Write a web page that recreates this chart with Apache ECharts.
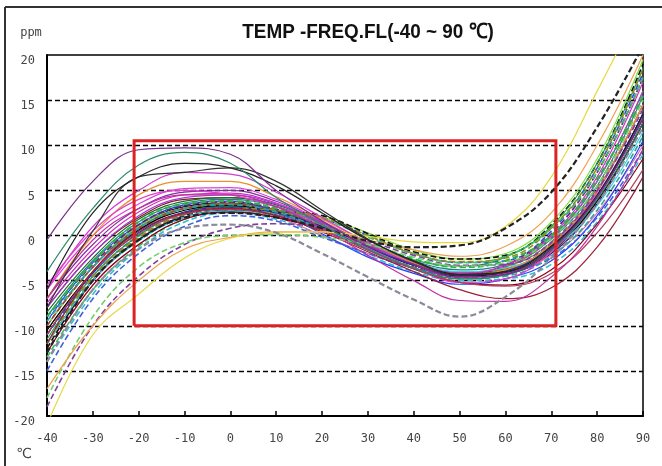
<!DOCTYPE html>
<html>
<head>
<meta charset="utf-8">
<script src="https://cdn.jsdelivr.net/npm/echarts@6/dist/echarts.min.js"></script>
<style>
html,body{margin:0;padding:0;background:#fff;}
#chart{width:662px;height:466px;}
</style>
</head>
<body>
<div id="chart"></div>
<script>
// Temperatures (°C) at which each curve was read
const temps = [-40, -30, -20, -10, 0, 10, 20, 30, 40, 50, 60, 70, 80, 90];
// Frequency deviation curves (ppm)
const ppmCurves = [
  [-10, -3.5, 1, 3.2, 3.6, 2.8, 1.0, -1.2, -3.2, -4.3, -3.8, -1.0, 5.0, 14.5],
  [-11, -4.5, 0, 2.5, 3.0, 2.6, 1.8, 0.0, -2.0, -3.0, -2.8, 0.5, 7.5, 18],
  [-12, -5, -0.5, 2.0, 2.8, 2.3, 0.8, -1.3, -3.3, -4.4, -4.2, -2.0, 3.5, 12.5],
  [-8, -2, 2, 4.0, 4.2, 3.2, 1.2, -1.2, -3.3, -4.6, -4.3, -1.8, 3.8, 12.5],
  [-14, -6.5, -1.5, 1.5, 2.5, 1.8, 0.0, -2.2, -4.0, -5.0, -4.8, -3.2, 1.5, 9],
  [-11, -4, 0.5, 3.0, 3.5, 2.8, 1.0, -1.3, -3.3, -4.2, -3.5, -0.3, 6, 16],
  [-7, -1, 3, 4.8, 5.0, 3.8, 1.5, -1.0, -3.1, -4.5, -4.2, -1.5, 4.3, 13.5],
  [-10, -3.5, 1, 3.0, 3.3, 2.8, 2.0, 0.3, -1.6, -2.6, -2.0, 1.5, 8.5, 19.5],
  [-9, -2.8, 1.5, 3.6, 4.0, 3.2, 1.3, -0.9, -2.8, -3.8, -3.2, -0.4, 5.5, 15.5],
  [-12.5, -5, -0.5, 2.2, 3.0, 2.7, 2.2, 0.2, -1.8, -2.6, -2.2, 1.2, 8, 19],
  [-13, -5.5, -1, 1.8, 2.6, 2.0, 0.0, -2.0, -3.6, -4.4, -4.0, -2.2, 2.5, 10],
  [-10.5, -4, 0.8, 3.0, 3.5, 2.8, 1.0, -1.2, -3.0, -4.1, -3.7, -1.2, 4.3, 13],
  [-9.5, -3, 1.2, 3.4, 3.8, 2.6, 0.2, -2.4, -4.2, -5.4, -4.8, -2.8, 2.2, 10.5],
  [-6, 0, 3.5, 5.2, 5.3, 4.0, 1.6, -1.0, -3.2, -4.5, -4.0, -1.2, 4.8, 14.5],
  [-11.5, -4.5, 0, 2.6, 3.2, 2.6, 1.0, -0.9, -2.7, -3.4, -2.4, 1.0, 8, 18.5],
  [-12, -4.8, -0.3, 2.3, 3.0, 2.4, 0.8, -1.3, -3.1, -4.1, -3.5, -0.7, 5.3, 15.5],
  [-8.5, -2.5, 1.8, 3.8, 4.2, 3.4, 1.4, -1.0, -3.1, -4.3, -3.9, -1.3, 4.3, 13.5],
  [-10, -3.5, 0.8, 3.0, 3.4, 2.6, 0.8, -1.5, -3.5, -4.7, -4.3, -1.7, 3.8, 12.5],
  [-15, -7, -2, 1.0, 2.2, 1.6, -0.2, -2.0, -3.6, -4.5, -4.0, -2.5, 2.0, 9.5],
  [-8, -2, 2.2, 4.2, 4.5, 3.5, 1.4, -0.9, -2.9, -4.1, -3.3, -0.2, 6, 16],
  [-9, -3.2, 1.2, 3.3, 3.7, 2.9, 1.0, -1.3, -3.2, -4.3, -3.3, 0.2, 7, 17.5],
  [-13.5, -6, -1.2, 1.8, 2.7, 2.5, 1.8, -0.2, -2.0, -3.0, -2.3, 0.8, 7, 17.5],
  [-10.5, -4, 0.6, 2.8, 3.3, 2.6, 0.9, -1.3, -3.3, -4.5, -4.2, -1.7, 3.8, 12.5],
  [-12, -5, -0.6, 2.0, 2.7, 2.2, 0.7, -1.3, -3.0, -4.0, -3.6, -1.5, 3.3, 11.5],
  [-7.5, -1.5, 2.6, 4.5, 4.7, 3.6, 1.5, -1.0, -3.0, -4.2, -3.3, 0.0, 6.5, 17],
  [-13, -5.5, -1, 1.8, 2.6, 2.0, 0.6, -1.6, -3.7, -5.2, -5.5, -3.8, 1.3, 8.5],
  [-11, -4.2, 0.3, 2.6, 3.1, 2.5, 0.9, -1.3, -3.3, -4.4, -3.9, -1.2, 4.3, 13.5],
  [-12, -4.5, -0.2, 2.4, 3.0, 2.8, 2.0, 0.0, -2.0, -2.9, -2.5, 0.8, 7.5, 18.5],
  [-9.5, -3.5, 0.8, 3.0, 3.4, 2.6, 0.7, -1.6, -3.6, -4.8, -4.5, -2.3, 2.8, 11],
  [-9, -3, 1.5, 3.5, 3.8, 3.0, 1.2, -0.8, -2.6, -3.5, -2.8, 0.0, 6.2, 15.5],
  [-7, 0, 4.5, 6.0, 6.0, 4.3, 1.8, -0.8, -3.0, -4.3, -3.8, -1.0, 5.0, 14.5],
  [-6, 1, 5, 7.0, 6.8, 4.8, 2.0, -0.8, -3.2, -4.6, -4.2, -1.6, 4.2, 13],
  [-5.5, 0.5, 4, 5, 4.5, 3.2, 1.2, -1.4, -3.6, -5.2, -4.8, -1.8, 4.2, 13],
  [-11, -4, 0.2, 2.4, 2.9, 2.2, 0.6, -1.6, -3.7, -5.2, -5.6, -4.2, 0.3, 7.3],
  [-12, -4, 0.5, 2.5, 3.0, 2.2, 0.4, -1.8, -4.0, -6.0, -7.0, -5.8, -1.3, 6.5],
  [-7, -0.5, 3, 4.5, 4.5, 3.2, 0.8, -2.2, -5.0, -7.2, -7.3, -4.6, 1.0, 9.5],
  [-19, -10, -4.5, -1, 0.8, 1.3, 0.8, -0.6, -2.2, -3.3, -3.2, -0.8, 5, 14],
  [-18, -9, -3.5, -0.8, 0, 0.1, -0.2, -1.0, -2.4, -3.4, -3.0, -0.3, 5.5, 15],
  [-17, -10, -5.0, -1.5, -0.2, 0.4, 0.4, -0.5, -1.6, -2.3, -1.2, 2.5, 10, 20],
  [-21, -11, -6.5, -2.5, -0.3, 0.3, 0.4, -0.1, -0.7, -0.8, 1.0, 6.5, 16, 26],
  [-13, -5, -0.5, 2, 2.5, 2.0, 0.8, -0.6, -1.3, -1.1, 0.8, 4.8, 12, 21],
  [-14, -6, -1.5, 0.8, 1.2, 0.3, -2.0, -4.6, -7.1, -9.0, -6.8, -2.5, 3.5, 12],
  [-8, 0.5, 6.5, 7.0, 7.5, 6.0, 2.8, -0.4, -2.9, -4.4, -4.1, -1.4, 4.3, 13],
  [-6, 2.5, 6.5, 8.0, 7.5, 5.5, 2.5, -0.5, -2.8, -4.3, -4.0, -1.2, 4.5, 13.5],
  [-4, 3, 7.8, 9.2, 8.0, 4.2, 1.2, -1.5, -3.6, -4.8, -4.4, -1.6, 4, 12.5],
  [-0.5, 6, 9.5, 9.7, 9.0, 5.0, 1.6, -1.2, -3.2, -4.6, -4.3, -1.5, 4.3, 13]
];
// Specification window (red box), in axis units
const boxX = [-21, -21, 71, 71, -21];
const boxY = [-10, 10.5, 10.5, -10, -10];
const yTicks = [-20, -15, -10, -5, 0, 5, 10, 15, 20];
const titleText = 'TEMP -FREQ.FL(-40 ~ 90 \u2103)';

// Styles (kept apart from data)
const curveColors = [
  '#111111','#3050e0','#202080','#8b1a1a','#30c0d0','#808020','#8030a0','#80e040','#208080','#111111',
  '#e070a0','#8b5a2b','#2040ff','#e040e0','#20a040','#777777','#1e6b30','#a04040','#4060e0','#a040e0',
  '#602080','#40c060','#000000','#40d0e0','#d030c0','#8b0020','#1030c0','#909020','#30a0a0','#30b050',
  '#e8902a','#d23cd2','#e040c8','#b04060','#9b1f3a','#c030a0','#8040a0','#70d070','#f0a050','#e8d840',
  '#222222','#8a8a9a','#333333','#222222','#2a8a6a','#7b2d8e'
];
const dashedSet = [1,4,9,15,17,18,20,21,27,28,29,36,37,40,41];
const thickSet = [29,40,41];

const series = ppmCurves.map((vals, k) => ({
  type: 'line',
  data: temps.map((t, i) => [t, vals[i]]),
  smooth: 0.4,
  symbol: 'none',
  silent: true,
  z: 2,
  lineStyle: {
    color: curveColors[k],
    width: thickSet.includes(k) ? 2.2 : (dashedSet.includes(k) ? 1.6 : 1.2),
    type: dashedSet.includes(k) ? [6, 3] : 'solid'
  }
}));
series.push({
  type: 'line',
  data: boxX.map((x, i) => [x, boxY[i]]),
  symbol: 'none',
  silent: true,
  z: 5,
  clip: false,
  lineStyle: { color: '#dd2222', width: 3, join: 'miter' }
});

const chart = echarts.init(document.getElementById('chart'), null, { renderer: 'canvas' });
chart.setOption({
  animation: false,
  backgroundColor: '#ffffff',
  grid: { left: 47, right: 19, top: 55, bottom: 50, show: true, borderColor: '#000', borderWidth: 1.5, backgroundColor: 'transparent' },
  xAxis: {
    type: 'value', min: -40, max: 90, interval: 10,
    axisLine: { onZero: false, lineStyle: { color: '#000', width: 2 } },
    axisTick: { inside: true, length: 5, lineStyle: { color: '#000', width: 1.5 } },
    axisLabel: { color: '#444', fontFamily: 'DejaVu Sans Mono', fontSize: 12, margin: 17 },
    splitLine: { show: false }
  },
  yAxis: {
    type: 'value', min: yTicks[0], max: yTicks[yTicks.length - 1], interval: 5,
    axisLine: { onZero: false, lineStyle: { color: '#000', width: 2 } },
    axisTick: { show: false },
    axisLabel: { color: '#444', fontFamily: 'DejaVu Sans Mono', fontSize: 12, margin: 12, verticalAlign: 'top' },
    splitLine: { show: true, showMinLine: false, showMaxLine: false, lineStyle: { color: '#000', width: 1.3, type: [5, 3] } }
  },
  series: series,
  graphic: [
    { type: 'line', silent: true, z: 10, shape: { x1: 5, y1: 7, x2: 662, y2: 7 }, style: { stroke: '#333', lineWidth: 2 } },
    { type: 'line', silent: true, z: 10, shape: { x1: 5, y1: 7, x2: 5, y2: 466 }, style: { stroke: '#333', lineWidth: 2 } },
    { type: 'text', silent: true, x: 368, y: 32, scaleX: 0.9, style: { text: titleText, x: 0, y: 0, textAlign: 'center', textVerticalAlign: 'middle', fill: '#111', font: 'bold 21px "Liberation Sans", sans-serif' } },
    { type: 'text', silent: true, style: { text: 'ppm', x: 31, y: 33, textAlign: 'center', textVerticalAlign: 'middle', fill: '#444', font: '12px "DejaVu Sans Mono"' } },
    { type: 'text', silent: true, style: { text: '\u2103', x: 24, y: 454, textAlign: 'center', textVerticalAlign: 'middle', fill: '#444', font: '14px "DejaVu Sans"' } }
  ]
});
</script>
</body>
</html>
